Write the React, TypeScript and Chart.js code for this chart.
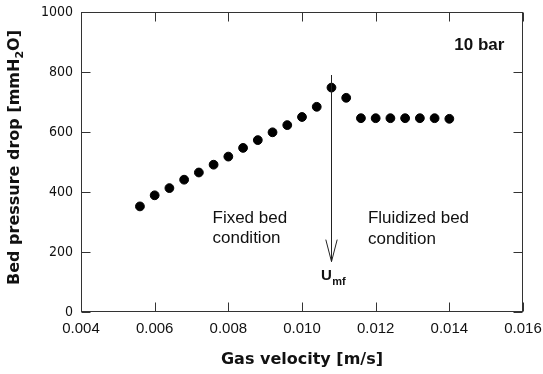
import React, { useEffect, useRef } from "react";
import { Chart, registerables } from "chart.js";

Chart.register(...registerables);

const gasVelocity = [0.0056, 0.006, 0.0064, 0.0068, 0.0072, 0.0076, 0.008, 0.0084, 0.0088, 0.0092, 0.0096, 0.01, 0.0104, 0.0108, 0.0112, 0.0116, 0.012, 0.0124, 0.0128, 0.0132, 0.0136, 0.014];
const pressureDrop = [352, 389, 413, 441, 465, 491, 518, 547, 573, 599, 623, 650, 684, 748, 714, 646, 646, 646, 646, 646, 646, 644];
const xTicks = [0.004, 0.006, 0.008, 0.01, 0.012, 0.014, 0.016];
const yTicks = [0, 200, 400, 600, 800, 1000];
const umf = 0.0108;
const arrowFrom = 790;
const arrowTo = 168;

const framePlugin = {
  id: "frameAndNotes",
  afterDraw(chart: any) {
    const ctx = chart.ctx as CanvasRenderingContext2D;
    const { left, right, top, bottom } = chart.chartArea;
    const xs = chart.scales.x;
    const ys = chart.scales.y;
    ctx.save();
    // frame
    ctx.strokeStyle = "#333";
    ctx.lineWidth = 1;
    const L = Math.round(left) + 0.5, R = Math.round(right) - 0.5, T = Math.round(top) + 0.5, B = Math.round(bottom) - 0.5;
    ctx.strokeRect(L, T, R - L, B - T);
    const tl = 9;
    ctx.beginPath();
    xTicks.forEach((v) => {
      const px = Math.round(xs.getPixelForValue(v)) + 0.5;
      ctx.moveTo(px, B); ctx.lineTo(px, B - tl);
      ctx.moveTo(px, T); ctx.lineTo(px, T + tl);
    });
    yTicks.forEach((v) => {
      const py = Math.round(ys.getPixelForValue(v)) + 0.5;
      ctx.moveTo(L, py); ctx.lineTo(L + tl, py);
      ctx.moveTo(R, py); ctx.lineTo(R - tl, py);
    });
    ctx.stroke();

    // arrow
    const ax = Math.round(xs.getPixelForValue(umf)) + 0.5;
    const ay1 = ys.getPixelForValue(arrowFrom);
    const ay2 = ys.getPixelForValue(arrowTo);
    ctx.strokeStyle = "#222";
    ctx.beginPath();
    ctx.moveTo(ax, ay1); ctx.lineTo(ax, ay2);
    ctx.moveTo(ax - 5.7, ay2 - 22); ctx.lineTo(ax, ay2); ctx.lineTo(ax + 5.7, ay2 - 22);
    ctx.stroke();

    // notes
    ctx.fillStyle = "#111";
    ctx.textBaseline = "alphabetic";
    ctx.textAlign = "left";
    ctx.font = "17px 'Liberation Sans', Arial, sans-serif";
    const fx = xs.getPixelForValue(0.00757);
    ctx.fillText("Fixed bed", fx, ys.getPixelForValue(297));
    ctx.fillText("condition", fx, ys.getPixelForValue(230));
    const flx = xs.getPixelForValue(0.01179);
    ctx.fillText("Fluidized bed", flx, ys.getPixelForValue(297));
    ctx.fillText("condition", flx, ys.getPixelForValue(228));
    ctx.font = "bold 17px 'Liberation Sans', Arial, sans-serif";
    ctx.fillText("10 bar", xs.getPixelForValue(0.014135), ys.getPixelForValue(874));
    ctx.font = "bold 15px 'Liberation Sans', Arial, sans-serif";
    const ux = xs.getPixelForValue(0.010516);
    const uy = ys.getPixelForValue(108);
    ctx.fillText("U", ux, uy);
    const uw = ctx.measureText("U").width;
    ctx.font = "bold 11px 'Liberation Sans', Arial, sans-serif";
    ctx.fillText("mf", ux + uw + 0.5, uy + 5.5);

    // axis titles
    ctx.font = "bold 16px 'DejaVu Sans', Verdana, sans-serif";
    ctx.textAlign = "center";
    ctx.textBaseline = "middle";
    ctx.fillText("Gas velocity [m/s]", (left + right) / 2, 360);

    ctx.translate(15, 157.5);
    ctx.rotate(-Math.PI / 2);
    const p1 = "Bed pressure drop [mmH";
    const p2 = "2";
    const p3 = "O]";
    const mainFont = "bold 16px 'DejaVu Sans', Verdana, sans-serif";
    const subFont = "bold 11px 'DejaVu Sans', Verdana, sans-serif";
    ctx.font = mainFont;
    const w1 = ctx.measureText(p1).width;
    const w3 = ctx.measureText(p3).width;
    ctx.font = subFont;
    const w2 = ctx.measureText(p2).width;
    const total = w1 + w2 + w3;
    ctx.textAlign = "left";
    let cx = -total / 2;
    ctx.font = mainFont;
    ctx.fillText(p1, cx, 0);
    cx += w1;
    ctx.font = subFont;
    ctx.fillText(p2, cx, 5);
    cx += w2;
    ctx.font = mainFont;
    ctx.fillText(p3, cx, 0);
    ctx.restore();
  },
};

export default function App() {
  const ref = useRef<HTMLCanvasElement | null>(null);
  useEffect(() => {
    if (!ref.current) return;
    const chart = new Chart(ref.current, {
      type: "scatter",
      data: {
        datasets: [
          {
            data: gasVelocity.map((x, i) => ({ x, y: pressureDrop[i] })),
            backgroundColor: "#000",
            borderColor: "#000",
            pointRadius: 4.4,
            pointHoverRadius: 4.4,
            showLine: false,
          },
        ],
      },
      options: {
        animation: false,
        responsive: false,
        devicePixelRatio: 1,
        events: [],
        layout: { padding: { left: 0, top: 12, right: 20, bottom: 0 } },
        plugins: { legend: { display: false }, tooltip: { enabled: false } },
        scales: {
          x: {
            type: "linear",
            min: 0.004,
            max: 0.016,
            afterBuildTicks: (s: any) => { s.ticks = xTicks.map((v) => ({ value: v })); },
            afterFit: (s: any) => { s.height = 62; s.paddingLeft = 0; s.paddingRight = 0; s.paddingTop = 0; s.paddingBottom = 0; },
            grid: { display: false, drawTicks: false },
            border: { display: false },
            ticks: {
              padding: 8,
              color: "#111",
              font: { family: "'Liberation Sans', Arial, sans-serif", size: 15 },
              callback: (v: any) => Number(v).toFixed(3),
              maxRotation: 0,
              autoSkip: false,
            },
          },
          y: {
            type: "linear",
            min: 0,
            max: 1000,
            afterBuildTicks: (s: any) => { s.ticks = yTicks.map((v) => ({ value: v })); },
            afterFit: (s: any) => { s.width = 81; s.paddingLeft = 0; s.paddingRight = 0; s.paddingTop = 0; s.paddingBottom = 0; },
            grid: { display: false, drawTicks: false },
            border: { display: false },
            ticks: {
              padding: 8,
              color: "#111",
              font: { family: "'DejaVu Sans Condensed', 'DejaVu Sans', Verdana, sans-serif", size: 14 },
              callback: (v: any) => String(v),
              autoSkip: false,
            },
          },
        },
      },
      plugins: [framePlugin],
    });
    return () => chart.destroy();
  }, []);
  return (
    <div style={{ position: "fixed", left: 0, top: 0, width: 543, height: 374, background: "#fff" }}>
      <canvas ref={ref} width={543} height={374} style={{ width: 543, height: 374 }} />
    </div>
  );
}
